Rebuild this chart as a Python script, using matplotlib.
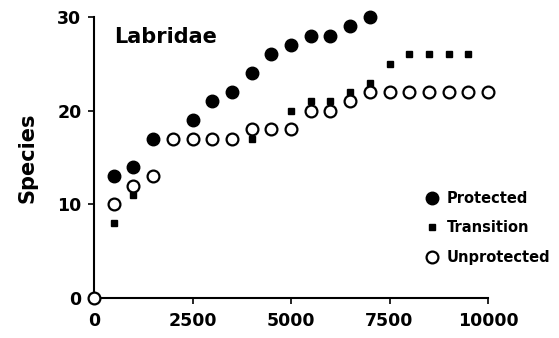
import matplotlib
matplotlib.use("Agg")
import matplotlib.pyplot as plt

prot_x = [500, 1000, 1500, 2500, 3000, 3500, 4000, 4500, 5000, 5500, 6000, 6500, 7000]
prot_y = [13, 14, 17, 19, 21, 22, 24, 26, 27, 28, 28, 29, 30]

trans_x = [500, 1000, 4000, 5000, 5500, 6000, 6500, 7000, 7500, 8000, 8500, 9000, 9500]
trans_y = [8, 11, 17, 20, 21, 21, 22, 23, 25, 26, 26, 26, 26]

unprot_x = [0, 500, 1000, 1500, 2000, 2500, 3000, 3500, 4000, 4500, 5000, 5500, 6000,
            6500, 7000, 7500, 8000, 8500, 9000, 9500, 10000]
unprot_y = [0, 10, 12, 13, 17, 17, 17, 17, 18, 18, 18, 20, 20, 21, 22, 22, 22, 22, 22, 22, 22]

x_ticks = [0, 2500, 5000, 7500, 10000]
y_ticks = [0, 10, 20, 30]

plt.rcParams['font.family'] = ['DejaVu Sans']
plt.rcParams['font.weight'] = 'bold'

fig = plt.figure(figsize=(5.59, 3.38), dpi=100)
ax = fig.add_axes([94/559, 1-298/338, (488-94)/559, (298-17)/338])

ax.plot(trans_x, trans_y, 's', color='black', markersize=5, clip_on=False, label='Transition', zorder=2)
ax.plot(unprot_x, unprot_y, 'o', markerfacecolor='white', markeredgecolor='black',
        markeredgewidth=1.6, markersize=8.5, clip_on=False, label='Unprotected', zorder=3)
ax.plot(prot_x, prot_y, 'o', color='black', markersize=9, clip_on=False, label='Protected', zorder=4)

ax.set_xlim(0, 10000)
ax.set_ylim(0, 30)
ax.set_xticks(x_ticks)
ax.set_yticks(y_ticks)
ax.set_xticklabels([str(v) for v in x_ticks], fontsize=12.5, fontweight='bold')
ax.set_yticklabels([str(v) for v in y_ticks], fontsize=12.5, fontweight='bold')
ax.tick_params(axis='x', direction='out', length=4, width=1.2, pad=6)
ax.tick_params(axis='y', direction='out', length=4, width=1.2, pad=5)
for s in ['top', 'right']:
    ax.spines[s].set_visible(False)
for s in ['left', 'bottom']:
    ax.spines[s].set_linewidth(1.5)

ax.set_ylabel('Species', fontsize=15, fontweight='bold', labelpad=14)
ax.text(0.05, 0.965, 'Labridae', transform=ax.transAxes, fontsize=15, fontweight='bold',
        va='top', ha='left')

handles, labels = ax.get_legend_handles_labels()
order = [2, 0, 1]
leg = ax.legend([handles[i] for i in order], [labels[i] for i in order],
                loc='center left', bbox_to_anchor=(0.835, 0.25), frameon=False,
                prop={'weight': 'bold', 'size': 10.5}, handletextpad=0.45,
                labelspacing=1.0, handlelength=1.2, borderpad=0, borderaxespad=0)

fig.savefig('out.png', dpi=100)
